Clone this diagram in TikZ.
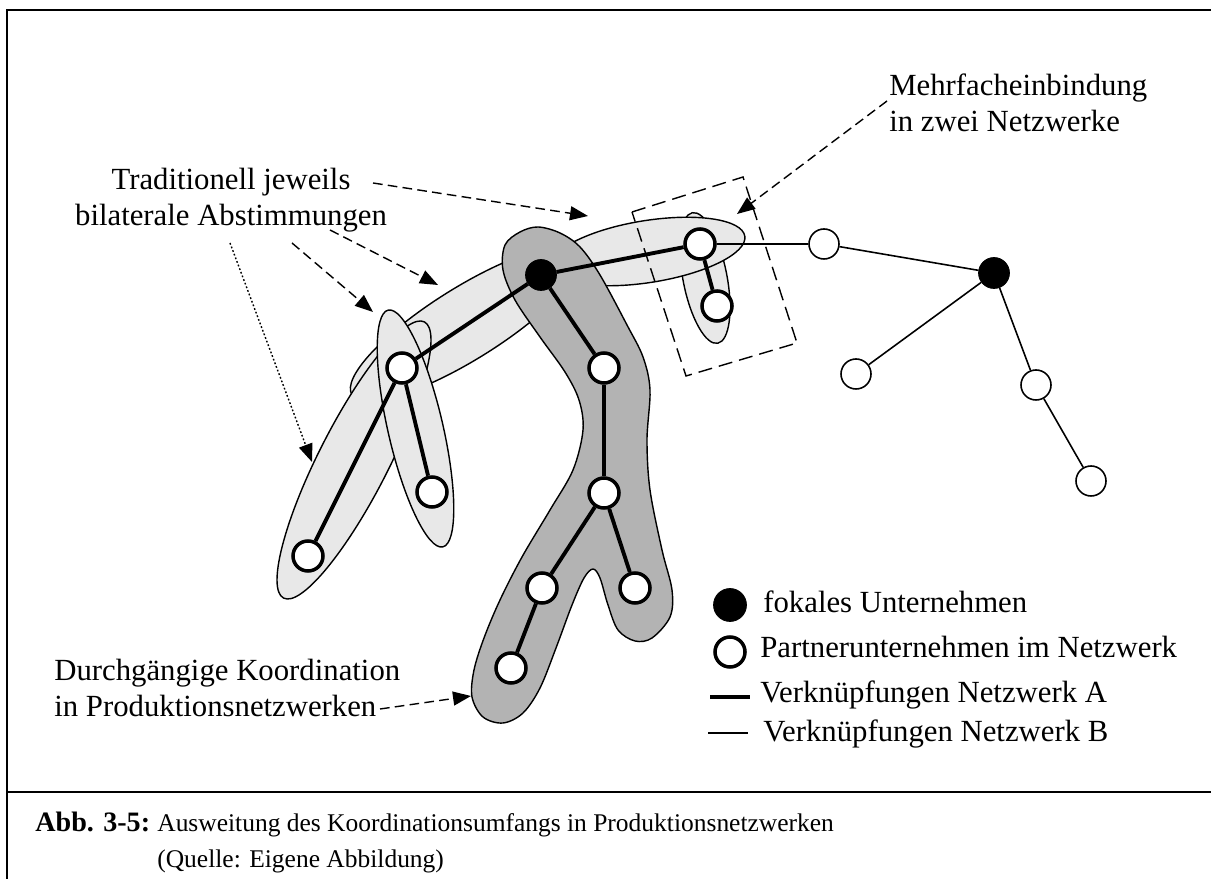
\documentclass[tikz,border=0pt]{standalone}
\usepackage{fontspec}
\setmainfont{Liberation Serif}
\usepackage{tikz}
\usetikzlibrary{arrows.meta}
\definecolor{blobgray}{RGB}{232,232,232}
\definecolor{pathgray}{RGB}{179,179,179}

\begin{document}
\begin{tikzpicture}[font=\fontsize{17.5}{20.5}\selectfont,
  focal/.style={circle, fill=black, draw=black, minimum size=0.62cm, inner sep=0pt},
  partnerA/.style={circle, fill=white, draw=black, line width=2pt, minimum size=0.6cm, inner sep=0pt},
  partnerB/.style={circle, fill=white, draw=black, line width=0.9pt, minimum size=0.6cm, inner sep=0pt},
  linkA/.style={line width=2.2pt},
  linkB/.style={line width=0.9pt},
  bilat/.style={fill=blobgray, draw=black, line width=0.8pt},
  hint/.style={line width=0.8pt, dash pattern=on 5.5pt off 3pt, -{Triangle[length=3.6mm, width=2.8mm]}},
  txt/.style={inner sep=0pt, align=left}]
\useasboundingbox (0,0) rectangle (24.22,17.58);
% frame and caption rule
\draw[line width=1.1pt] (24.22,17.38) -- (0.14,17.38) -- (0.14,0);
\draw[line width=1.1pt] (0.14,1.74) -- (24.22,1.74);
% bilateral blobs
\draw[bilat, shift={(14.10,12.02)}, rotate=101] (0,0) ellipse (1.33 and 0.44);
\draw[bilat, shift={(12.96,12.55)}, rotate=9] (0,0) ellipse (1.96 and 0.62);
\draw[bilat, shift={(9.32,11.11)}, rotate=32] (0,0) ellipse (2.69 and 0.72);
\draw[bilat, shift={(7.08,8.38)}, rotate=63] (0,0) ellipse (3.10 and 0.70);
\draw[bilat, shift={(8.31,9.01)}, rotate=103] (0,0) ellipse (2.43 and 0.55);
% continuous coordination
\draw[fill=pathgray, line width=0.8pt] plot[smooth cycle, tension=0.55] coordinates {
  (10.76,13.04) (11.20,12.92) (11.60,12.64) (12.00,12.08) (12.54,11.08) (12.86,10.44)
  (13.00,9.78) (12.94,8.78) (13.00,7.78) (13.24,6.58) (13.44,5.78) (13.40,5.24)
  (13.04,4.82) (12.70,4.76) (12.36,4.98) (12.16,5.48) (12.00,6.02) (11.86,6.20)
  (11.68,6.02) (11.44,5.48) (11.12,4.62) (10.80,3.82) (10.46,3.32) (10.06,3.12)
  (9.66,3.24) (9.44,3.64) (9.48,4.18) (9.68,4.82) (10.00,5.58) (10.44,6.44)
  (11.00,7.38) (11.46,8.18) (11.66,8.98) (11.58,9.58) (11.30,10.14) (10.80,10.84)
  (10.30,11.58) (10.06,12.18) (10.10,12.68) (10.40,12.94)};
% multiple embedding
\draw[line width=0.8pt, dash pattern=on 8pt off 4pt] (12.64,13.34) -- (14.86,14.04) -- (15.94,10.72) -- (13.72,10.06) -- cycle;
% companies
\node[focal] (F1) at (10.82,12.08) {}; \node[focal] (F2) at (19.88,12.12) {};
\node[partnerA] (a1) at (14.00,12.70) {}; \node[partnerA] (a2) at (14.34,11.46) {};
\node[partnerA] (b1) at (8.04,10.22) {}; \node[partnerA] (b2) at (8.64,7.74) {};
\node[partnerA] (b3) at (6.16,6.46) {};
\node[partnerA] (c1) at (12.08,10.22) {}; \node[partnerA] (c2) at (12.08,7.72) {};
\node[partnerA] (c3) at (10.84,5.82) {}; \node[partnerA] (c4) at (12.70,5.82) {};
\node[partnerA] (c5) at (10.22,4.22) {};
\node[partnerB] (d1) at (16.48,12.70) {}; \node[partnerB] (d2) at (17.12,10.10) {};
\node[partnerB] (d3) at (20.72,9.88) {}; \node[partnerB] (d4) at (21.82,7.96) {};
% network A
\draw[linkA] (F1)--(a1); \draw[linkA] (a1)--(a2);
\draw[linkA] (F1)--(b1); \draw[linkA] (b1)--(b2); \draw[linkA] (b1)--(b3);
\draw[linkA] (F1)--(c1); \draw[linkA] (c1)--(c2); \draw[linkA] (c2)--(c3);
\draw[linkA] (c2)--(c4); \draw[linkA] (c3)--(c5);
% network B
\draw[linkB] (a1)--(d1); \draw[linkB] (d1)--(F2); \draw[linkB] (F2)--(d2);
\draw[linkB] (F2)--(d3); \draw[linkB] (d3)--(d4);
% annotations
\node[txt, anchor=base, align=center] (tradLbl) at (4.62,13.06) {Traditionell jeweils\\bilaterale Abstimmungen};
\node[txt, anchor=base west] (multiLbl) at (17.78,14.94) {Mehrfacheinbindung\\in zwei Netzwerke};
\node[txt, anchor=base west] (contLbl) at (1.08,3.24) {Durchgängige Koordination\\in Produktionsnetzwerken};
\coordinate (multiStart) at (17.74,15.56); \coordinate (multiTip) at (14.74,13.30);
\coordinate (tradStart) at (7.46,13.92); \coordinate (tradTip) at (11.76,13.26);
\coordinate (bilStartA) at (6.60,12.98); \coordinate (bilTipA) at (8.76,11.88);
\coordinate (bilStartB) at (5.84,12.72); \coordinate (bilTipB) at (7.46,11.34);
\coordinate (bilStartC) at (4.60,12.72); \coordinate (bilTipC) at (6.24,8.34);
\coordinate (contStart) at (7.60,3.40); \coordinate (contTip) at (9.42,3.66);
\draw[hint] (multiStart) -- (multiTip); \draw[hint] (tradStart) -- (tradTip);
\draw[hint] (bilStartA) -- (bilTipA); \draw[hint] (bilStartB) -- (bilTipB);
\draw[hint, dash pattern=on 1pt off 1.2pt] (bilStartC) -- (bilTipC);
\draw[hint] (contStart) -- (contTip);
% legend
\node[focal, minimum size=0.66cm] (legF) at (14.60,5.48) {};
\node[txt, anchor=base west] (legFtxt) at (15.26,5.32) {fokales Unternehmen};
\node[partnerA] (legP) at (14.60,4.54) {};
\node[txt, anchor=base west] (legPtxt) at (15.20,4.42) {Partnerunternehmen im Netzwerk};
\coordinate (legA1) at (14.20,3.64); \coordinate (legA2) at (15.00,3.64); \draw[linkA] (legA1)--(legA2);
\node[txt, anchor=base west] (legAtxt) at (15.20,3.52) {Verknüpfungen Netzwerk A};
\coordinate (legB1) at (14.16,2.92); \coordinate (legB2) at (14.96,2.92); \draw[linkB] (legB1)--(legB2);
\node[txt, anchor=base west] (legBtxt) at (15.26,2.74) {Verknüpfungen Netzwerk B};
% caption
\node[txt, anchor=base west, font=\fontsize{16}{20}\selectfont\bfseries] (capNum) at (0.70,0.94) {Abb. 3-5:};
\node[txt, anchor=base west, font=\fontsize{14.5}{20}\selectfont] (capTxt) at (3.14,0.24) {Ausweitung des Koordinationsumfangs in Produktionsnetzwerken\\(Quelle: Eigene Abbildung)};
\end{tikzpicture}
\end{document}
